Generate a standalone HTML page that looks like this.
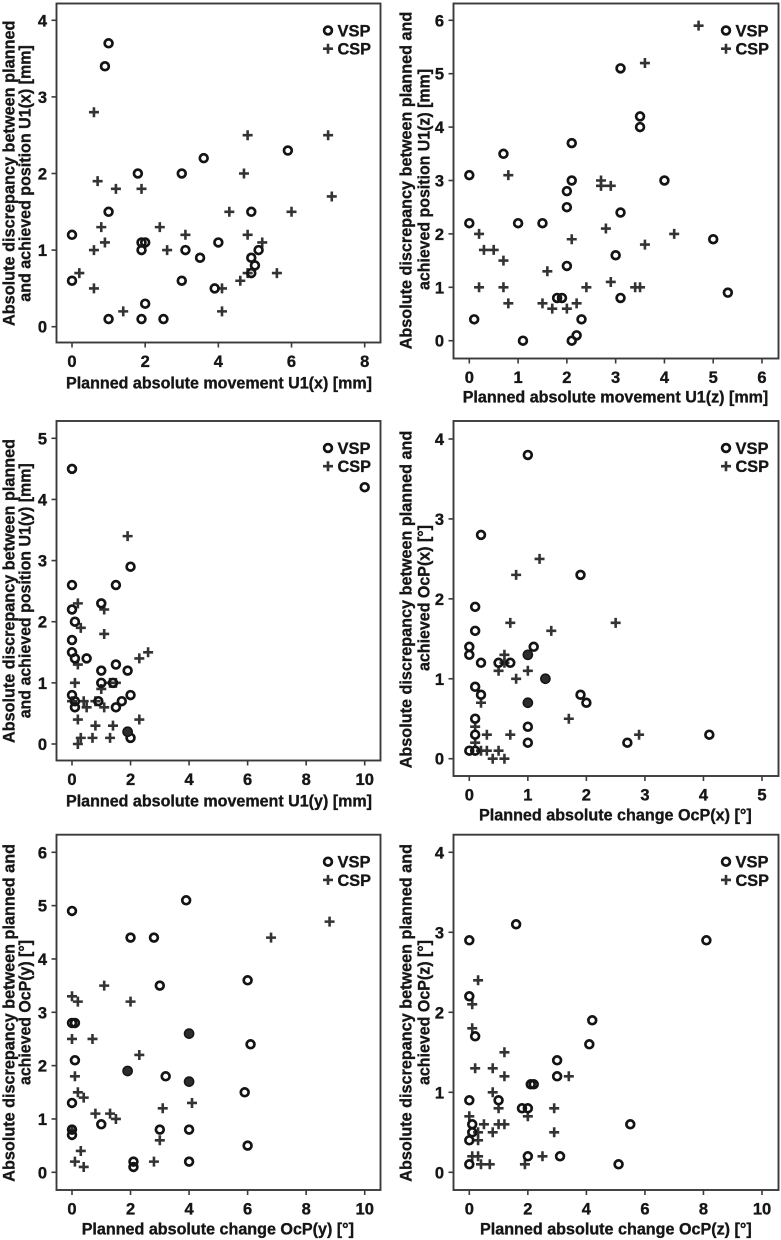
<!DOCTYPE html>
<html lang="en">
<head>
<meta charset="utf-8">
<title>Planned versus achieved discrepancy scatter plots</title>
<style>
html,body{margin:0;padding:0;background:#fff;}
body{width:781px;height:1240px;overflow:hidden;}
svg{display:block;filter:blur(0.35px);}
text{font-family:"Liberation Sans",Arial,sans-serif;font-weight:bold;fill:#161616;stroke:#161616;stroke-width:0.35px;}
.tick-label{font-size:16.5px;}
.axis-title{font-size:17px;}
.legend-label{font-size:17px;}
</style>
</head>
<body>
<svg id="figure" width="781" height="1240" viewBox="0 0 781 1240" xmlns="http://www.w3.org/2000/svg"></svg>
<script>
// Panel 1: U1(x)
const u1xVspX = [0,0,1,0.9,1,1,1.9,2,2.5,1.8,1.9,2,1.9,3,3.6,3,3.1,3.5,3.9,4,4.9,4.9,5,4.9,5.1,5.9];
const u1xVspY = [1.2,0.6,3.7,3.4,1.5,0.1,0.1,0.3,0.1,2,1.1,1.1,1,2,2.2,0.6,1,0.9,0.5,1.1,1.5,0.9,0.8,0.7,1,2.3];
const u1xCspX = [0.2,0.6,0.6,0.6,0.7,0.8,0.9,1.2,1.4,1.9,2.4,2.6,3.1,4.1,4.1,4.3,4.6,4.7,4.8,4.8,4.8,5.2,5.6,6,7,7.1];
const u1xCspY = [0.7,2.8,1,0.5,1.9,1.3,1.1,1.8,0.2,1.8,1.3,1,1.2,0.5,0.2,1.5,0.6,2,2.5,1.2,0.7,1.1,0.7,1.5,2.5,1.7];
const u1xOverlapX = [];
const u1xOverlapY = [];
const u1xXTicks = [0,2,4,6,8];
const u1xYTicks = [0,1,2,3,4];

// Panel 2: U1(z)
const u1zVspX = [0,0,0.1,0.7,1,1.1,1.5,1.8,1.9,2,2,2,2.1,2.1,2.1,2.2,2.3,3,3.1,3.1,3.1,3.5,3.5,4,5,5.3];
const u1zVspY = [3.1,2.2,0.4,3.5,2.2,0,2.2,0.8,0.8,2.8,2.5,1.4,3.7,3,0,0.1,0.4,1.6,5.1,2.4,0.8,4.2,4,3,1.9,0.9];
const u1zCspX = [0.2,0.2,0.3,0.5,0.7,0.7,0.8,0.8,1.5,1.6,1.7,2,2.1,2.2,2.4,2.7,2.7,2.8,2.9,2.9,3.4,3.5,3.6,3.6,4.2,4.7];
const u1zCspY = [2,1,1.7,1.7,1.5,1,3.1,0.7,0.7,1.3,0.6,0.6,1.9,0.7,1,3,2.9,2.1,2.9,1.1,1,1,5.2,1.8,2,5.9];
const u1zOverlapX = [];
const u1zOverlapY = [];
const u1zXTicks = [0,1,2,3,4,5,6];
const u1zYTicks = [0,1,2,3,4,5,6];

// Panel 3: U1(y)
const u1yVspX = [0,0,0,0.1,0,0,0.1,0,0.1,0.1,0.5,0.9,1,1,1,1.4,1.5,1.5,1.5,1.7,1.9,1.9,2,2,2,10];
const u1yVspY = [4.5,2.6,2.2,2,1.7,1.5,1.4,0.8,0.7,0.6,1.4,0.7,2.3,1.2,1,1,2.6,1.3,0.6,0.7,1.2,0.2,2.9,0.8,0.1,4.2];
const u1yCspX = [0.2,0.3,0.2,0.1,0,0.4,0.5,0.2,0.3,0.2,0.7,0.8,0.8,1.1,1.1,1,1.1,1.3,1.5,1.4,1.3,1.9,2.3,2.6,2.3];
const u1yCspY = [2.3,1.9,1.3,1,0.7,0.7,0.6,0.4,0.1,0,0.1,0.3,0.7,2.2,1.8,0.9,0.6,1,1,0.3,0.1,3.4,1.4,1.5,0.4];
const u1yOverlapX = [1.9];
const u1yOverlapY = [0.2];
const u1yXTicks = [0,2,4,6,8,10];
const u1yYTicks = [0,1,2,3,4,5];

// Panel 4: OcP(x)
const ocpxVspX = [1,0.2,1.9,0.1,0.1,0,0,0.2,0.5,0.7,1.1,0.1,0.2,0.1,0.1,0,0.1,1,1,1.9,2,2.7,4.1];
const ocpxVspY = [3.8,2.8,2.3,1.9,1.6,1.4,1.3,1.2,1.2,1.2,1.4,0.9,0.8,0.5,0.3,0.1,0.1,0.4,0.2,0.8,0.7,0.2,0.3];
const ocpxCspX = [1.2,0.8,0.7,1.4,2.5,0.6,0.6,0.5,1,0.8,0.2,1.7,0.1,0.3,0.7,2.9,0.1,0.2,0.3,0.5,0.4,0.6];
const ocpxCspY = [2.5,2.3,1.7,1.6,1.7,1.3,1.2,1.1,1.1,1,0.7,0.5,0.4,0.3,0.3,0.3,0.2,0.1,0.1,0.1,0,0];
const ocpxOverlapX = [1,1.3,1];
const ocpxOverlapY = [1.3,1,0.7];
const ocpxXTicks = [0,1,2,3,4,5];
const ocpxYTicks = [0,1,2,3,4];

// Panel 5: OcP(y)
const ocpyVspX = [3.9,0,2,2.8,6,3,0,0.1,6.1,0.1,3.2,5.9,0,1,3,4,0,0,6,2.1,2.1,4];
const ocpyVspY = [5.1,4.9,4.4,4.4,3.6,3.5,2.8,2.8,2.4,2.1,1.8,1.5,1.3,0.9,0.8,0.8,0.8,0.7,0.5,0.2,0.1,0.2];
const ocpyCspX = [8.8,6.8,1.1,0,0.2,2,0,0.7,2.3,0.1,0.2,0.4,4.1,3.1,0.8,1.3,1.5,3,0.3,0.1,2.8,0.4,0];
const ocpyCspY = [4.7,4.4,3.5,3.3,3.2,3.2,2.5,2.5,2.2,1.8,1.5,1.4,1.3,1.2,1.1,1.1,1,0.6,0.4,0.2,0.2,0.1,0.8];
const ocpyOverlapX = [4,1.9,4];
const ocpyOverlapY = [2.6,1.9,1.7];
const ocpyXTicks = [0,2,4,6,8,10];
const ocpyYTicks = [0,1,2,3,4,5,6];

// Panel 6: OcP(z)
const ocpzVspX = [1.6,0,8.1,0,0.2,4.2,4.1,3,3,2.1,2.2,0,1,1.8,2,0.1,5.5,0.1,0,2,3.1,0,5.1];
const ocpzVspY = [3.1,2.9,2.9,2.2,1.7,1.9,1.6,1.4,1.2,1.1,1.1,0.9,0.9,0.8,0.8,0.6,0.6,0.5,0.4,0.2,0.2,0.1,0.1];
const ocpzCspX = [0.3,0.1,0.1,1.2,0.2,0.8,1.2,3.4,0.8,1,2.9,0,2,0.5,1,1.2,0.3,0.8,2.9,0.3,0.1,0.3,2.5,0.4,0.7,1.9];
const ocpzCspY = [2.4,2.1,1.8,1.5,1.3,1.3,1.2,1.2,1,0.8,0.8,0.7,0.7,0.6,0.6,0.6,0.5,0.5,0.5,0.4,0.2,0.2,0.2,0.1,0.1,0.1];
const ocpzOverlapX = [];
const ocpzOverlapY = [];
const ocpzXTicks = [0,2,4,6,8,10];
const ocpzYTicks = [0,1,2,3,4];

const svgNs = 'http://www.w3.org/2000/svg';
const svgRoot = document.getElementById('figure');

const panels = [
  { id:'u1x', box:[56.5,380.5,3.5,342.5], xPx:[72,364.7], yPx:[326.7,20.3],
    xs:u1xVspX, ys:u1xVspY, cx:u1xCspX, cy:u1xCspY, ox:u1xOverlapX, oy:u1xOverlapY, xt:u1xXTicks, yt:u1xYTicks,
    xTitle:['Planned absolute movement U1(x) [mm]',66,306,388.5],
    yTitle:[['Absolute discrepancy between planned',14.7,326,305.5],['and achieved position U1(x) [mm]',30.5,301.7,256.5]] },
  { id:'u1z', box:[453.5,778.5,3.5,358.5], xPx:[469.3,762], yPx:[340.7,20.3],
    xs:u1zVspX, ys:u1zVspY, cx:u1zCspX, cy:u1zCspY, ox:u1zOverlapX, oy:u1zOverlapY, xt:u1zXTicks, yt:u1zYTicks,
    xTitle:['Planned absolute movement U1(z) [mm]',462.7,305.6,402.5],
    yTitle:[['Absolute discrepancy between planned and',411.7,349.3,337.6],['achieved position U1(z) [mm]',429.3,290,221]] },
  { id:'u1y', box:[56.5,380.5,421,760.5], xPx:[72,364.7], yPx:[744,438.3],
    xs:u1yVspX, ys:u1yVspY, cx:u1yCspX, cy:u1yCspY, ox:u1yOverlapX, oy:u1yOverlapY, xt:u1yXTicks, yt:u1yYTicks,
    xTitle:['Planned absolute movement U1(y) [mm]',66,306,806.5],
    yTitle:[['Absolute discrepancy between planned',14.7,743,304],['and achieved position U1(y) [mm]',30.5,718.3,255]] },
  { id:'ocpx', box:[453.5,778.5,421,776], xPx:[469.3,762], yPx:[758.7,439],
    xs:ocpxVspX, ys:ocpxVspY, cx:ocpxCspX, cy:ocpxCspY, ox:ocpxOverlapX, oy:ocpxOverlapY, xt:ocpxXTicks, yt:ocpxYTicks,
    xTitle:['Planned absolute change OcP(x) [°]',479,272.7,820.5],
    yTitle:[['Absolute discrepancy between planned and',411.7,768.3,337.6],['achieved OcP(x) [°]',429.3,671,146]] },
  { id:'ocpy', box:[56.5,380.5,834.7,1190], xPx:[72,364.7], yPx:[1172.3,852.3],
    xs:ocpyVspX, ys:ocpyVspY, cx:ocpyCspX, cy:ocpyCspY, ox:ocpyOverlapX, oy:ocpyOverlapY, xt:ocpyXTicks, yt:ocpyYTicks,
    xTitle:['Planned absolute change OcP(y) [°]',81.7,272.3,1234.5],
    yTitle:[['Absolute discrepancy between planned and',14.7,1181.7,337.7],['achieved OcP(y) [°]',30.5,1085,145]] },
  { id:'ocpz', box:[453.5,778.5,834.7,1190], xPx:[469.3,762], yPx:[1172.3,852.3],
    xs:ocpzVspX, ys:ocpzVspY, cx:ocpzCspX, cy:ocpzCspY, ox:ocpzOverlapX, oy:ocpzOverlapY, xt:ocpzXTicks, yt:ocpzYTicks,
    xTitle:['Planned absolute change OcP(z) [°]',480,271.7,1234.5],
    yTitle:[['Absolute discrepancy between planned and',411.7,1181.7,337.7],['achieved OcP(z) [°]',429.3,1085,145]] }
];

function make(tag, attrs, parent) {
  const node = document.createElementNS(svgNs, tag);
  for (const key in attrs) node.setAttribute(key, attrs[key]);
  parent.appendChild(node);
  return node;
}
function linearScale(domainMax, pxStart, pxEnd) {
  return function (value) { return pxStart + (value / domainMax) * (pxEnd - pxStart); };
}
function drawCircle(parent, x, y, filled) {
  const mark = make('circle', {cx:x, cy:y, r:filled ? 4.6 : 3.9, fill:filled ? '#2c2c2c' : 'none', stroke:'#141414', 'stroke-width':filled ? 1.5 : 2.7}, parent);
  return mark;
}
function drawPlus(parent, x, y) {
  const d = 'M' + (x - 5) + ' ' + y + 'H' + (x + 5) + 'M' + x + ' ' + (y - 5) + 'V' + (y + 5);
  const mark = make('path', {d:d, fill:'none', stroke:'#333', 'stroke-width':2.6}, parent);
  return mark;
}

panels.forEach(function (p) {
  const left = p.box[0], right = p.box[1], top = p.box[2], bottom = p.box[3];
  const scaleX = linearScale(p.xt[p.xt.length - 1], p.xPx[0], p.xPx[1]);
  const scaleY = linearScale(p.yt[p.yt.length - 1], p.yPx[0], p.yPx[1]);

  const group = make('g', {}, svgRoot);
  
  

  const frame = make('rect', {x:left, y:top, width:right - left, height:bottom - top, fill:'#fff', stroke:'#3a3a3a', 'stroke-width':1.9}, group);
  
  

  p.xt.forEach(function (tick) {
    const px = scaleX(tick);
    const tickLine = make('line', {x1:px, x2:px, y1:bottom, y2:bottom + 5, stroke:'#3a3a3a', 'stroke-width':1.6}, group);
    
    
    const label = make('text', {x:px, y:bottom + 24.5, 'text-anchor':'middle', class:'tick-label'}, group);
    
    
    label.textContent = tick;
  });

  p.yt.forEach(function (tick) {
    const py = scaleY(tick);
    const tickLine = make('line', {x1:left - 5, x2:left, y1:py, y2:py, stroke:'#3a3a3a', 'stroke-width':1.6}, group);
    
    
    const label = make('text', {x:left - 9.5, y:py + 6, 'text-anchor':'end', class:'tick-label'}, group);
    
    
    label.textContent = tick;
  });

  p.cx.forEach(function (value, i) {
    const plus = drawPlus(group, scaleX(value), scaleY(p.cy[i]));
    
    
  });
  p.xs.forEach(function (value, i) {
    const circle = drawCircle(group, scaleX(value), scaleY(p.ys[i]), false);
    
    
  });
  p.ox.forEach(function (value, i) {
    const dot = drawCircle(group, scaleX(value), scaleY(p.oy[i]), true);
    
    
  });

  const legend = make('g', {}, group);
  
  
  const legendX = right - 52.5;
  const vspKey = drawCircle(legend, legendX, top + 27, false);
  
  
  const vspText = make('text', {x:legendX + 9.5, y:top + 33, class:'legend-label', textLength:33, lengthAdjust:'spacingAndGlyphs'}, legend);
  
  
  vspText.textContent = 'VSP';
  const cspKey = drawPlus(legend, legendX, top + 45.2);
  
  
  const cspText = make('text', {x:legendX + 9.5, y:top + 51.2, class:'legend-label', textLength:33.5, lengthAdjust:'spacingAndGlyphs'}, legend);
  
  
  cspText.textContent = 'CSP';

  const xTitle = make('text', {x:p.xTitle[1], y:p.xTitle[3], class:'axis-title', textLength:p.xTitle[2], lengthAdjust:'spacingAndGlyphs'}, group);
  
  
  xTitle.textContent = p.xTitle[0];

  p.yTitle.forEach(function (line) {
    const yTitle = make('text', {transform:'translate(' + line[1] + ' ' + line[2] + ') rotate(-90)', class:'axis-title', textLength:line[3], lengthAdjust:'spacingAndGlyphs'}, group);
    
    
    yTitle.textContent = line[0];
  });
});
</script>
</body>
</html>
